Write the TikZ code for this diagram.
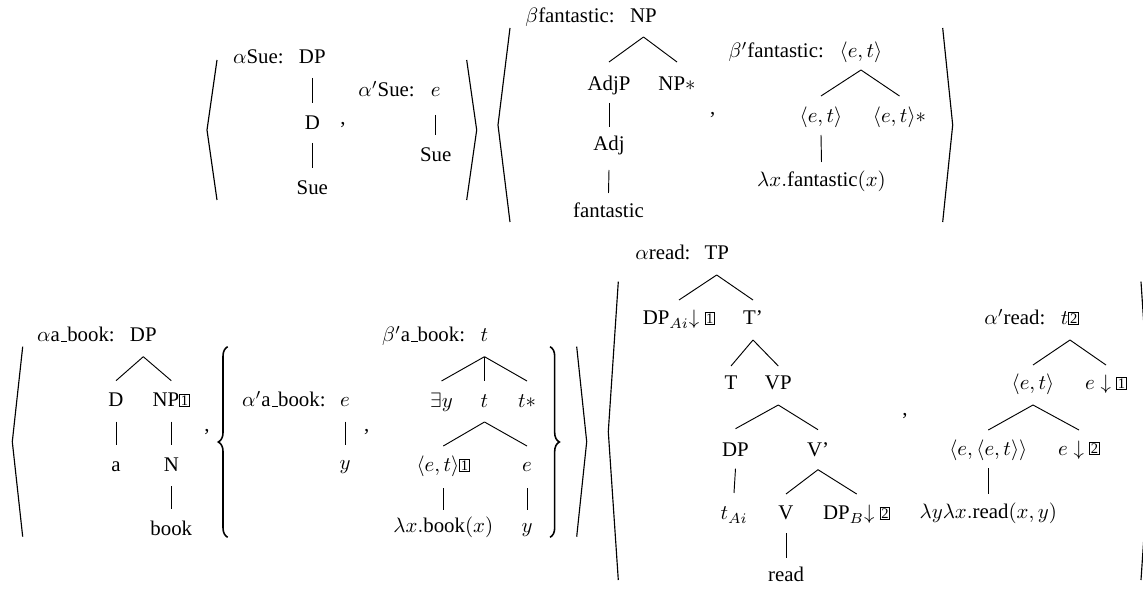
\documentclass[tikz,border=0pt]{standalone}
\usepackage[no-math]{fontspec}
\setmainfont{Liberation Serif}
\usetikzlibrary{calc,decorations.pathreplacing}
\newcommand{\bx}[1]{\raisebox{0.7pt}{\setlength{\fboxsep}{0.4pt}\setlength{\fboxrule}{0.4pt}\fbox{\scriptsize #1}}}
\newcommand{\us}{\leavevmode\kern.06em\vbox{\hrule width.3em}}
\newcommand{\edge}[4]{\draw[edgeline] ($(#1.base)+(0,#2)$) -- ($(#3.base)+(0,-#4)$);}
\tikzset{
  lbl/.style={anchor=base west, inner sep=0pt},
  nd/.style={anchor=base, inner sep=0pt},
  edgeline/.style={line width=0.45pt},
  angle/.style={line width=0.55pt},
  curly/.style={line width=0.75pt, decorate, decoration={brace, amplitude=4.5pt}},
}
\begin{document}
\begin{tikzpicture}[x=0.48pt,y=-0.48pt]
\useasboundingbox (0,0) rectangle (1143,589);

% ---------- top row: Sue ----------
\draw[angle] (217,60) -- (207,130) -- (217,200);
\node[lbl] (l1) at (232.7,64) {$\alpha$Sue:};
\node[nd] (s1DP) at (312.3,64) {DP};
\node[nd] (s1D) at (312.3,130) {D};
\node[nd] (s1Sue) at (312.3,195) {Sue};
\edge{s1DP}{14}{s1D}{27}
\edge{s1D}{13}{s1Sue}{27}
\node[nd] (c1) at (343,125) {,};
\node[lbl] (l2) at (358,97) {$\alpha'$Sue:};
\node[nd] (s2e) at (435.7,97) {$e$};
\node[nd] (s2Sue) at (435.7,162) {Sue};
\edge{s2e}{18}{s2Sue}{27}
\draw[angle] (466.7,60) -- (476.7,130) -- (466.7,200);

% ---------- top row: fantastic ----------
\draw[angle] (510,28) -- (498,125) -- (510,222);
\node[lbl] (l3) at (525,23) {$\beta$fantastic:};
\node[nd] (f1NP) at (643.5,23) {NP};
\node[nd] (f1AdjP) at (609,91) {AdjP};
\node[nd] (f1NPs) at (677,91) {NP$*$};
\node[nd] (f1Adj) at (609,151) {Adj};
\node[nd] (f1fan) at (608.5,218) {fantastic};
\edge{f1NP}{14}{f1AdjP}{29}
\edge{f1NP}{14}{f1NPs}{29}
\edge{f1AdjP}{12}{f1Adj}{24}
\edge{f1Adj}{19}{f1fan}{25}
\node[nd] (c2) at (712.7,115) {,};
\node[lbl] (l4) at (728.3,58) {$\beta'$fantastic:};
\node[nd] (f2r) at (861,58) {$\langle e,t\rangle$};
\node[nd] (f2l) at (821,122.5) {$\langle e,t\rangle$};
\node[nd] (f2rs) at (899.5,122.5) {$\langle e,t\rangle*$};
\node[nd] (f2lam) at (821.5,186.7) {$\lambda x.$fantastic$(x)$};
\edge{f2r}{12}{f2l}{26.5}
\edge{f2r}{12}{f2rs}{26.5}
\edge{f2l}{12.5}{f2lam}{24.7}
\draw[angle] (942.7,28) -- (952.7,125) -- (942.7,222);

% ---------- bottom row: a_book ----------
\draw[angle] (22.7,346.7) -- (12.3,441.7) -- (22.7,536.7);
\node[lbl] (l5) at (36.7,341.7) {$\alpha$a\us book:};
\node[nd] (b1DP) at (143.3,341.7) {DP};
\node[nd] (b1D) at (116,406.7) {D};
\node[nd] (b1NP) at (171.3,406.7) {NP\bx{1}};
\node[nd] (b1a) at (116,471.7) {a};
\node[nd] (b1N) at (171.3,471.7) {N};
\node[nd] (b1book) at (171.3,535) {book};
\edge{b1DP}{15}{b1D}{26}
\edge{b1DP}{15}{b1NP}{26}
\edge{b1D}{15}{b1a}{26.7}
\edge{b1NP}{15}{b1N}{26.7}
\edge{b1N}{14.3}{b1book}{26}
\node[nd] (c3) at (207,432) {,};
\draw[curly] (227.7,537.3) -- (227.7,346.7);
\node[lbl] (l6) at (241.7,406.7) {$\alpha'$a\us book:};
\node[nd] (b2e) at (345,406.7) {$e$};
\node[nd] (b2y) at (345,470) {$y$};
\edge{b2e}{15}{b2y}{25}
\node[nd] (c4) at (366.7,432) {,};
\node[lbl] (l7) at (381.7,341.7) {$\beta'$a\us book:};
\node[nd] (b3t) at (484.5,341.7) {$t$};
\node[nd] (b3ex) at (441.5,408) {$\exists y$};
\node[nd] (b3tm) at (484.5,408) {$t$};
\node[nd] (b3ts) at (527,408) {$t*$};
\node[nd] (b3et) at (443.3,472) {$\langle e,t\rangle$\bx{1}};
\node[nd] (b3e) at (527,472) {$e$};
\node[nd] (b3lam) at (443.3,533) {$\lambda x.$book$(x)$};
\node[nd] (b3y) at (527,533) {$y$};
\edge{b3t}{15}{b3ex}{27}
\edge{b3t}{15}{b3tm}{27}
\edge{b3t}{15}{b3ts}{27}
\edge{b3tm}{14}{b3et}{26}
\edge{b3tm}{14}{b3e}{26}
\edge{b3et}{16}{b3lam}{23}
\edge{b3e}{16}{b3y}{23}
\draw[curly] (550,346.7) -- (550,537.3);
\draw[angle] (576.7,346.7) -- (586.7,441.7) -- (576.7,536.7);

% ---------- bottom row: read ----------
\draw[angle] (618.3,281.7) -- (608.3,431.7) -- (618.3,580);
\node[lbl] (l8) at (635,260) {$\alpha$read:};
\node[nd] (r1TP) at (716.7,260) {TP};
\node[nd] (r1DPA) at (679,325) {DP$_{Ai}{\downarrow}$ \bx{1}};
\node[nd] (r1Tb) at (753,325) {T'};
\node[nd] (r1T) at (731,390) {T};
\node[nd] (r1VP) at (778.3,390) {VP};
\node[nd] (r1DP) at (735.5,456.7) {DP};
\node[nd] (r1Vb) at (818,456.7) {V'};
\node[nd] (r1t) at (734,520) {$t_{Ai}$};
\node[nd] (r1V) at (786,520) {V};
\node[nd] (r1DPB) at (856.7,520) {DP$_{B}{\downarrow}$ \bx{2}};
\node[nd] (r1read) at (786,582) {read};
\edge{r1TP}{15}{r1DPA}{25}
\edge{r1TP}{15}{r1Tb}{25}
\edge{r1Tb}{15}{r1T}{24}
\edge{r1Tb}{15}{r1VP}{24}
\edge{r1VP}{15}{r1DP}{28}
\edge{r1VP}{15}{r1Vb}{27}
\edge{r1DP}{12}{r1t}{27}
\edge{r1Vb}{13}{r1V}{26}
\edge{r1Vb}{13}{r1DPB}{26}
\edge{r1V}{13}{r1read}{24}
\node[nd] (c5) at (905,415) {,};
\node[lbl] (l9) at (984,325) {$\alpha'$read:};
\node[nd] (r2t) at (1070,325) {$t$\bx{2}};
\node[nd] (r2et) at (1033,390) {$\langle e,t\rangle$};
\node[nd] (r2e1) at (1106,390) {$e\downarrow$ \bx{1}};
\node[nd] (r2eet) at (988.3,455) {$\langle e,\langle e,t\rangle\rangle$};
\node[nd] (r2e2) at (1079,455) {$e\downarrow$ \bx{2}};
\node[nd] (r2lam) at (988.3,518.5) {$\lambda y\lambda x.$read$(x,y)$};
\edge{r2t}{15}{r2et}{25}
\edge{r2t}{15}{r2e1}{25}
\edge{r2et}{15}{r2eet}{25}
\edge{r2et}{15}{r2e2}{25}
\edge{r2eet}{13}{r2lam}{24.5}
\begin{scope}
\clip (0,0) rectangle (1143,589);
\draw[angle] (1141,281.7) -- (1151,431.7) -- (1141,580);
\end{scope}
\end{tikzpicture}
\end{document}
